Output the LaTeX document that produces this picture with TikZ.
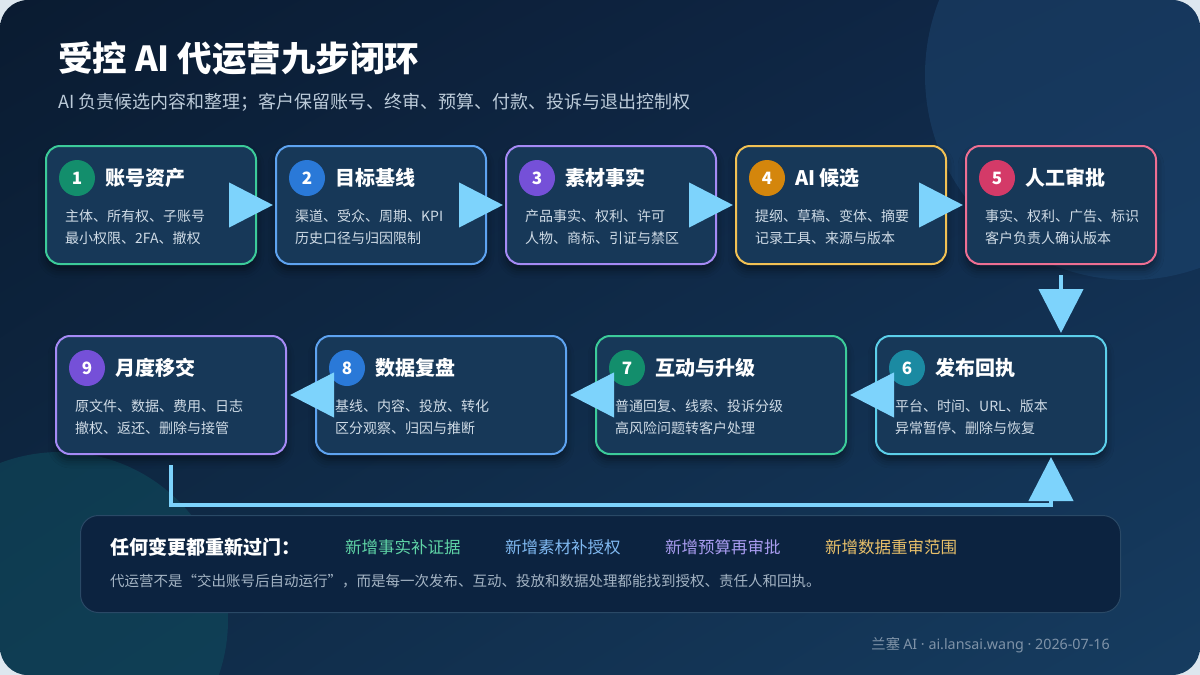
\documentclass[tikz,border=0pt]{standalone}
\usepackage{fontspec}
\setmainfont{Noto Sans CJK SC}
\newfontfamily\latinfont{Noto Sans}
\usetikzlibrary{calc,arrows.meta,shadows.blur,shadings}
\definecolor{outer}{HTML}{DDE7EF}
\definecolor{bgTL}{HTML}{0A1B31}
\definecolor{bgTR}{HTML}{10294A}
\definecolor{bgBL}{HTML}{0F2A46}
\definecolor{bgBR}{HTML}{163C60}
\definecolor{circA}{HTML}{1F4A75}
\definecolor{circB}{HTML}{0F5060}
\definecolor{cardfill}{HTML}{173858}
\definecolor{arr}{HTML}{7DD3FC}
\definecolor{bodytxt}{HTML}{CFDBE6}
\definecolor{subtxt}{HTML}{BCCBD9}
\definecolor{bGreen}{HTML}{3CCB9A}
\definecolor{bBlue}{HTML}{5EA3F0}
\definecolor{bPurple}{HTML}{A58AF5}
\definecolor{bGold}{HTML}{F2C154}
\definecolor{bPink}{HTML}{EE6F93}
\definecolor{bCyan}{HTML}{5CCFEA}
\definecolor{kGreen}{HTML}{138E6C}
\definecolor{kBlue}{HTML}{2A79D8}
\definecolor{kPurple}{HTML}{7550D8}
\definecolor{kGold}{HTML}{D4860C}
\definecolor{kPink}{HTML}{D43A68}
\definecolor{kCyan}{HTML}{1B8AA2}
\definecolor{panelfill}{HTML}{0C2340}
\definecolor{panelline}{HTML}{2A4966}
\definecolor{tGreen}{HTML}{5FD4A6}
\definecolor{tBlue}{HTML}{7FB8F0}
\definecolor{tPurple}{HTML}{A99CF0}
\definecolor{tGold}{HTML}{E8C06A}
\definecolor{foot}{HTML}{7F93A8}
\definecolor{pbtxt}{HTML}{A4B4C4}
\newcommand\stepcard[9]{%
  \node[cardbox, draw=#5, minimum width=#4pt, anchor=north west] (#1) at (#2,#3) {};
  \node[badge, fill=#6] (#1b) at ($(#1.north west)+(32,33)$) {#7};
  \node[ctitle] (#1t) at ($(#1.north west)+(60,33)$) {#8};
  \node[cbody] (#1d) at ($(#1.north west)+(20,98)$) {#9};
}
\begin{document}
\begin{tikzpicture}[x=1pt,y=-1pt,
  cardbox/.style={rounded corners=14pt, line width=2pt, fill=cardfill, minimum height=118pt, inner sep=0pt,
    blur shadow={shadow xshift=0pt, shadow yshift=-6pt, shadow blur radius=8pt, shadow opacity=45}},
  badge/.style={circle, minimum size=36pt, inner sep=0pt, text=white, font=\fontsize{17}{20}\selectfont\bfseries},
  ctitle/.style={anchor=west, inner sep=0pt, text=white, font=\fontsize{20}{24}\selectfont\bfseries},
  cbody/.style={anchor=base west, inner sep=0pt, align=left, text=bodytxt, font=\fontsize{14}{22}\selectfont},
  conn/.style={draw=arr, line width=4.5pt, -{Triangle[length=44pt,width=44pt]}},
  itemtxt/.style={anchor=west, inner sep=0pt, font=\fontsize{16.5}{20}\selectfont}
]
\useasboundingbox (0,0) rectangle (1200,675);
\fill[outer] (0,0) rectangle (1200,675);
\begin{scope}
  \clip[rounded corners=28pt] (0,0) rectangle (1200,675);
  \shade[upper left=bgTL, upper right=bgTR, lower left=bgBL, lower right=bgBR] (0,0) rectangle (1200,675);
  \fill[circA, fill opacity=0.45] (1130,75) circle (205);
  \fill[circB, fill opacity=0.5] (60,620) circle (168);
\end{scope}

% title
\node[anchor=west, inner sep=0pt, text=white, font=\fontsize{34.5}{40}\selectfont\bfseries] (title) at (58,59) {受控 AI 代运营九步闭环};
\node[anchor=west, inner sep=0pt, text=subtxt, font=\fontsize{18}{22}\selectfont] (subtitle) at (58,102) {AI 负责候选内容和整理；客户保留账号、终审、预算、付款、投诉与退出控制权};

% row 1
\stepcard{c1}{45}{145}{210}{bGreen}{kGreen}{1}{账号资产}{主体、所有权、子账号\\最小权限、2FA、撤权}
\stepcard{c2}{275}{145}{210}{bBlue}{kBlue}{2}{目标基线}{渠道、受众、周期、KPI\\历史口径与归因限制}
\stepcard{c3}{505}{145}{210}{bPurple}{kPurple}{3}{素材事实}{产品事实、权利、许可\\人物、商标、引证与禁区}
\stepcard{c4}{735}{145}{210}{bGold}{kGold}{4}{AI 候选}{提纲、草稿、变体、摘要\\记录工具、来源与版本}
\stepcard{c5}{965}{145}{190}{bPink}{kPink}{5}{人工审批}{事实、权利、广告、标识\\客户负责人确认版本}
% row 2
\stepcard{c6}{875}{335}{230}{bCyan}{kCyan}{6}{发布回执}{平台、时间、URL、版本\\异常暂停、删除与恢复}
\stepcard{c7}{595}{335}{250}{bGreen}{kGreen}{7}{互动与升级}{普通回复、线索、投诉分级\\高风险问题转客户处理}
\stepcard{c8}{315}{335}{250}{bBlue}{kBlue}{8}{数据复盘}{基线、内容、投放、转化\\区分观察、归因与推断}
\stepcard{c9}{55}{335}{230}{bPurple}{kPurple}{9}{月度移交}{原文件、数据、费用、日志\\撤权、返还、删除与接管}

% connectors
\draw[conn] (c1.east) -- ($(c2.west)+(-2,0)$);
\draw[conn] (c2.east) -- ($(c3.west)+(-2,0)$);
\draw[conn] (c3.east) -- ($(c4.west)+(-2,0)$);
\draw[conn] (c4.east) -- ($(c5.west)+(-2,0)$);
\draw[conn] ($(c5.south)+(0,10)$) -- ($(c5.south |- c6.north)+(0,-2)$);
\draw[conn] (c6.west) -- ($(c7.east)+(3,0)$);
\draw[conn] (c7.west) -- ($(c8.east)+(3,0)$);
\draw[conn] (c8.west) -- ($(c9.east)+(3,0)$);
\draw[conn] ($(c9.south)+(0,10)$) -- ($(c9.south)+(0,50)$) -| ($(c6.south)+(60,2)$);

% bottom panel
\node[draw=panelline, line width=1pt, fill=panelfill, rounded corners=18pt, minimum width=1040pt, minimum height=97pt, inner sep=0pt, anchor=north west] (pn) at (80,515) {};
\node[anchor=west, inner sep=0pt, text=white, font=\fontsize{19}{22}\selectfont\bfseries] (pt) at ($(pn.north west)+(30,32)$) {任何变更都重新过门：};
\node[itemtxt, text=tGreen] (i1) at ($(pn.north west)+(265,32)$) {新增事实补证据};
\node[itemtxt, text=tBlue] (i2) at ($(pn.north west)+(425,32)$) {新增素材补授权};
\node[itemtxt, text=tPurple] (i3) at ($(pn.north west)+(585,32)$) {新增预算再审批};
\node[itemtxt, text=tGold] (i4) at ($(pn.north west)+(745,32)$) {新增数据重审范围};
\node[anchor=west, inner sep=0pt, text=pbtxt, font=\fontsize{14.5}{18}\selectfont] (pb) at ($(pn.north west)+(30,66)$) {代运营不是“交出账号后自动运行”，而是每一次发布、互动、投放和数据处理都能找到授权、责任人和回执。};

% footer
\node[anchor=east, inner sep=0pt, text=foot, font=\fontsize{14.3}{17}\selectfont] (ft) at (1110,645) {兰塞 {\latinfont AI · ai.lansai.wang · 2026-07-16}};
\end{tikzpicture}
\end{document}
